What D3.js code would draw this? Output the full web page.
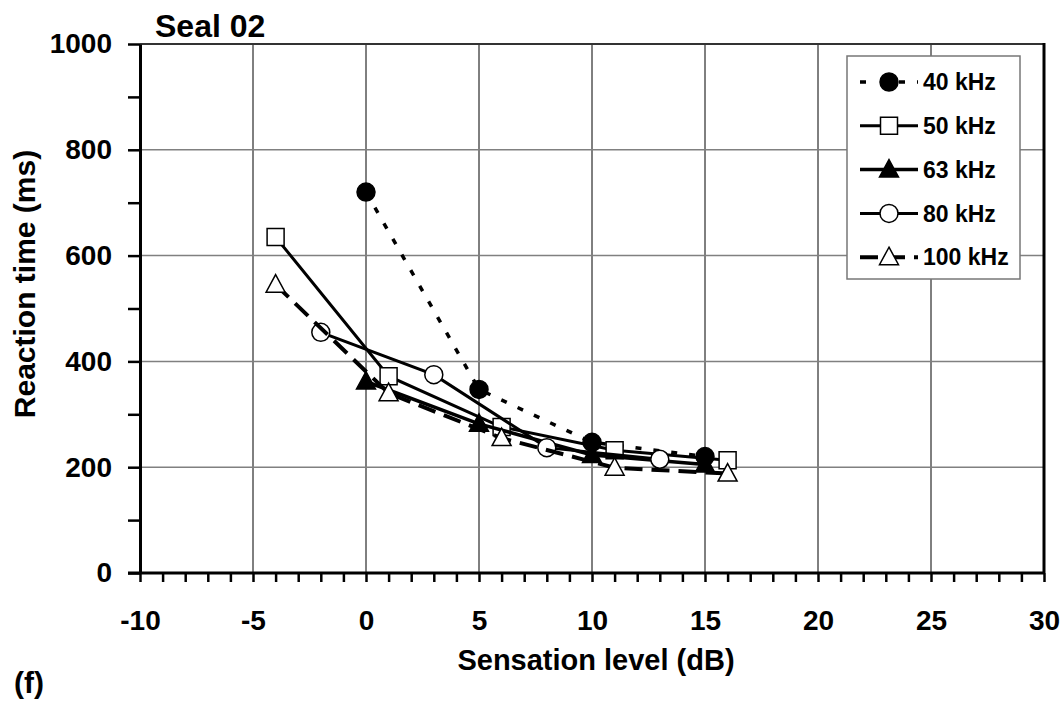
<!DOCTYPE html>
<html>
<head>
<meta charset="utf-8">
<script src="https://cdn.jsdelivr.net/npm/d3@7"></script>
<style>
  body { margin: 0; background: #fff; }
  text { font-family: "Liberation Sans", Arial, sans-serif; font-weight: bold; fill: #000; }
</style>
</head>
<body>
<svg id="chart" width="1064" height="702"></svg>
<script>
// data
const seriesNames = ["40 kHz", "50 kHz", "63 kHz", "80 kHz", "100 kHz"];
const level40 = [0, 5, 10, 15];
const time40 = [720, 347, 247, 220];
const level50 = [-4, 1, 6, 11, 16];
const time50 = [635, 372, 276, 232, 213];
const level63 = [0, 5, 10, 15];
const time63 = [362, 282, 223, 205];
const level80 = [-2, 3, 8, 13];
const time80 = [455, 375, 237, 215];
const level100 = [-4, 1, 6, 11, 16];
const time100 = [545, 340, 255, 199, 188];

const xTicks = [-10, -5, 0, 5, 10, 15, 20, 25, 30];
const yTicks = [0, 200, 400, 600, 800, 1000];

const seriesLevels = [level40, level50, level63, level80, level100];
const seriesTimes = [time40, time50, time63, time80, time100];
const styles = [
    {marker: "circle", fill: "#000", width: 3.5, dash: "6,12"},
    {marker: "square", fill: "#fff", width: 3, dash: null},
    {marker: "triangle", fill: "#000", width: 3.5, dash: null},
    {marker: "circle", fill: "#fff", width: 3, dash: null},
    {marker: "triangle", fill: "#fff", width: 4, dash: "18,9"}
];

const svg = d3.select("#chart");

const x = d3.scaleLinear().domain([-10, 30]).range([140, 1044]);
const y = d3.scaleLinear().domain([0, 1000]).range([573, 44]);

// gridlines
svg.append("g").selectAll("line")
    .data(xTicks.filter(d => d > -10 && d < 30))
    .enter().append("line")
        .attr("x1", d => x(d)).attr("x2", d => x(d))
        .attr("y1", y(1000)).attr("y2", y(0))
        .attr("stroke", "#000").attr("stroke-width", 1);

svg.append("g").selectAll("line")
    .data(yTicks.filter(d => d > 0 && d < 1000))
    .enter().append("line")
        .attr("x1", x(-10)).attr("x2", x(30))
        .attr("y1", d => y(d)).attr("y2", d => y(d))
        .attr("stroke", "#808080").attr("stroke-width", 1.5);

// top and right borders
svg.append("line")
    .attr("x1", x(-10)).attr("x2", x(30) + 1)
    .attr("y1", y(1000)).attr("y2", y(1000))
    .attr("stroke", "#333").attr("stroke-width", 2);
svg.append("line")
    .attr("x1", x(30)).attr("x2", x(30))
    .attr("y1", y(1000) - 1).attr("y2", y(0))
    .attr("stroke", "#000").attr("stroke-width", 3);

// axes
let xAxis = svg.append("g")
    .attr("transform", `translate(0,${y(0)})`)
    .call(d3.axisBottom(x)
        .tickValues(d3.range(-10, 31, 1))
        .tickSize(9)
        .tickSizeOuter(0)
        .tickPadding(28)
        .tickFormat(d => d % 5 === 0 ? d : ""));

let yAxis = svg.append("g")
    .attr("transform", `translate(${x(-10)},0)`)
    .call(d3.axisLeft(y)
        .tickValues(d3.range(0, 1001, 100))
        .tickSize(12)
        .tickSizeOuter(0)
        .tickPadding(16)
        .tickFormat(d => d % 200 === 0 ? d : ""));

[xAxis, yAxis].forEach(axis => {
    axis.select(".domain").attr("stroke", "#000").attr("stroke-width", 3);
    axis.selectAll(".tick line").attr("stroke", "#000").attr("stroke-width", 2.5);
    axis.selectAll(".tick text")
        .attr("font-size", "28px")
        .attr("font-family", "Liberation Sans, Arial, sans-serif")
        .attr("font-weight", "bold")
        .attr("fill", "#000");
});
xAxis.select(".domain").attr("d", `M${x(-10) - 12},0H${x(30) + 1}`);

// markers
function markerPath(type) {
    if (type === "square") return "M-8.5,-8.5H8.5V8.5H-8.5Z";
    if (type === "triangle") return "M0,-10L9.5,7.5H-9.5Z";
    return d3.symbol().type(d3.symbolCircle).size(Math.PI * 9 * 9)();
}

let line = d3.line().x(d => x(d[0])).y(d => y(d[1]));

seriesNames.forEach((name, i) => {
    let points = seriesLevels[i].map((level, j) => [level, seriesTimes[i][j]]);
    let st = styles[i];
    let group = svg.append("g").classed("series", true);

    group.append("path")
        .datum(points)
        .attr("d", line)
        .attr("fill", "none")
        .attr("stroke", "#000")
        .attr("stroke-width", st.width)
        .attr("stroke-dasharray", st.dash);

    group.selectAll(".marker")
        .data(points)
        .enter().append("path")
            .classed("marker", true)
            .attr("transform", d => `translate(${x(d[0])},${y(d[1])})`)
            .attr("d", markerPath(st.marker))
            .attr("fill", st.fill)
            .attr("stroke", "#000")
            .attr("stroke-width", 1.5);
});

// legend
let legend = svg.append("g");
legend.append("rect")
    .attr("x", 847).attr("y", 56)
    .attr("width", 173).attr("height", 223)
    .attr("fill", "#fff")
    .attr("stroke", "#777").attr("stroke-width", 1.5);

seriesNames.forEach((name, i) => {
    let st = styles[i];
    let rowY = 82 + i * 43.8;
    let row = legend.append("g").attr("transform", `translate(0,${rowY})`);
    row.append("line")
        .attr("x1", 860).attr("x2", 918)
        .attr("y1", 0).attr("y2", 0)
        .attr("stroke", "#000")
        .attr("stroke-width", st.width)
        .attr("stroke-dasharray", st.dash ? (i === 0 ? "6,33,6,12" : st.dash) : null);
    row.append("path")
        .attr("transform", "translate(889,0)")
        .attr("d", markerPath(st.marker))
        .attr("fill", st.fill)
        .attr("stroke", "#000")
        .attr("stroke-width", 1.5);
    row.append("text")
        .attr("x", 923).attr("dy", "0.36em")
        .attr("font-size", "23px")
        .text(name);
});

// titles
svg.append("text")
    .attr("x", 155).attr("y", 37)
    .attr("font-size", "32px")
    .text("Seal 02");

svg.append("text")
    .attr("x", 596).attr("y", 670)
    .attr("text-anchor", "middle")
    .attr("font-size", "29px")
    .text("Sensation level (dB)");

svg.append("text")
    .attr("transform", "translate(35,284) rotate(-90)")
    .attr("text-anchor", "middle")
    .attr("font-size", "30px")
    .text("Reaction time (ms)");

svg.append("text")
    .attr("x", 14).attr("y", 693)
    .attr("font-size", "30px")
    .text("(f)");
</script>
</body>
</html>
